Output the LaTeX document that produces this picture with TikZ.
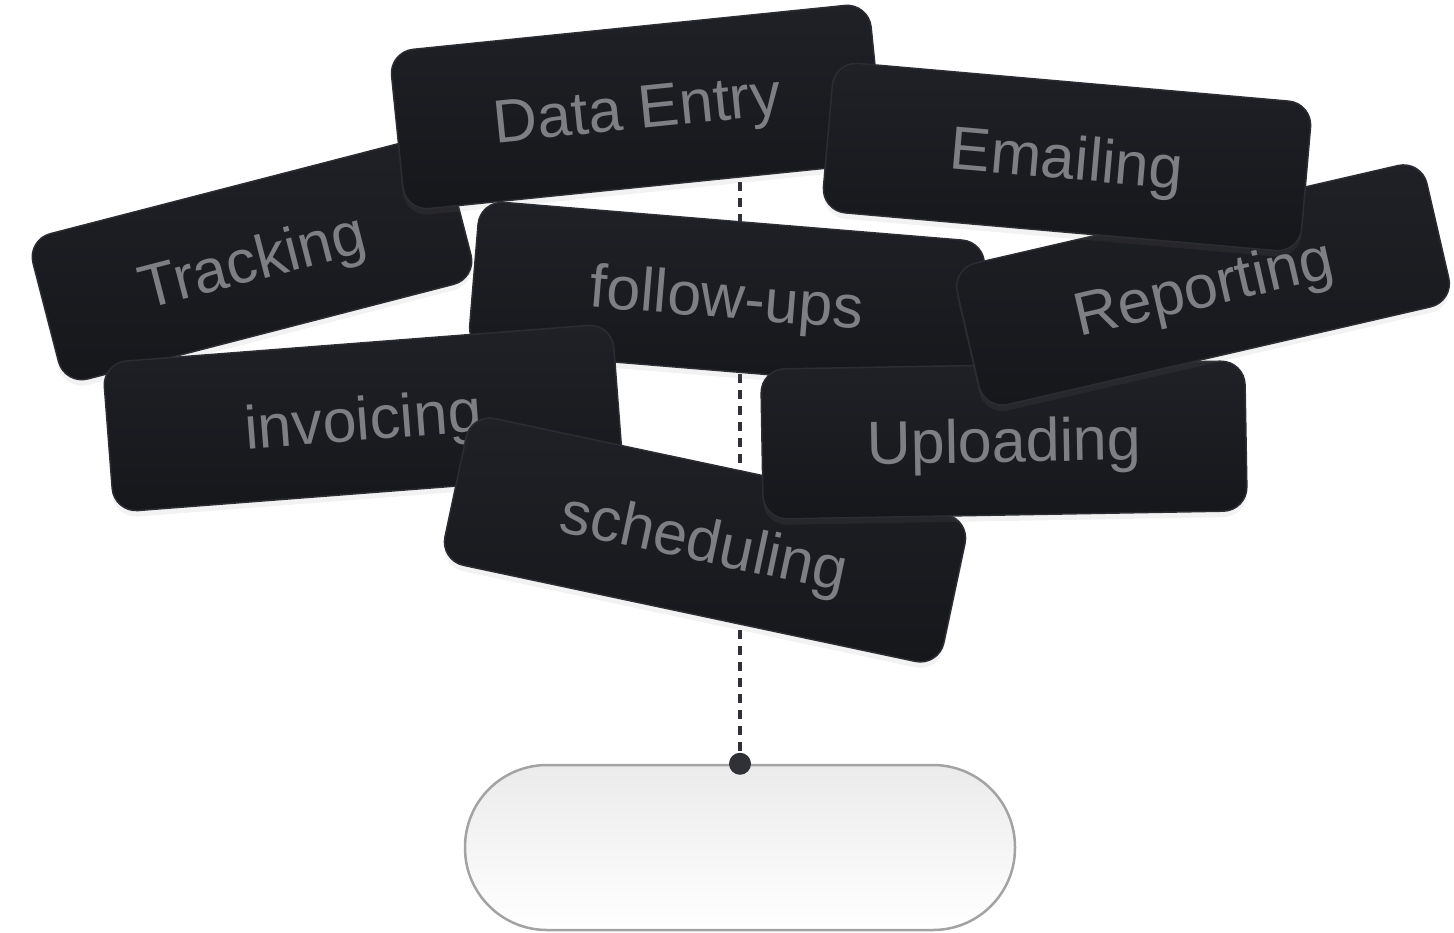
\documentclass[tikz,border=0pt]{standalone}
\usepackage{fontspec}
\usepackage{tikz}
\usetikzlibrary{shadows}
\newfontfamily\cardfont{Liberation Sans}
\definecolor{cardtop}{HTML}{202126}
\definecolor{cardbottom}{HTML}{16171B}
\definecolor{cardline}{HTML}{2C2D32}
\definecolor{cardtext}{HTML}{7E7F85}
\definecolor{dashgray}{HTML}{303136}
\definecolor{pillline}{HTML}{A3A3A3}
\definecolor{pilltop}{HTML}{EBEBEB}
\tikzset{
	card/.style={rectangle, rounded corners=24pt, minimum width=#1, minimum height=150pt,
		inner sep=0pt, draw=cardline, line width=1.5pt, top color=cardtop, bottom color=cardbottom,
		text=cardtext, font=\cardfont\fontsize{61}{68}\selectfont, text height=44pt, text depth=0pt,
		drop shadow={shadow xshift=0pt, shadow yshift=-6pt, opacity=0.10}},
	goal/.style={rectangle, rounded corners=82pt, minimum width=550pt, minimum height=165pt,
		draw=pillline, line width=2.5pt, top color=pilltop, bottom color=white},
	link/.style={draw=dashgray, line width=3.5pt, dash pattern=on 9pt off 7pt},
	dot/.style={circle, fill=dashgray, inner sep=0pt, minimum size=22pt},
}
\begin{document}
\begin{tikzpicture}[x=1pt, y=-1pt]
	\useasboundingbox (0,0) rectangle (1454,932);
	% Target and link:
	\coordinate (top) at (740,150);
	\node[goal] (target) at (740,847.5){};
	\draw[link] (top) -- (target.north);
	% Task cards, back to front:
	\node[card=426pt, rotate=14.5] (tracking) at (252,259){Tracking};
	\node[card=482pt, minimum height=160pt, rotate=5.8] (dataentry) at (637,107){Data Entry};
	\node[card=508pt, rotate=-4.7] (followups) at (727,296){follow-ups};
	\node[card=511pt, rotate=4.4] (invoicing) at (363,418){invoicing};
	\node[card=510pt, rotate=-12] (scheduling) at (705,540){scheduling};
	\node[card=484pt, rotate=1] (uploading) at (1004,440){Uploading};
	\node[card=482pt, minimum height=145pt, rotate=13] (reporting) at (1203,285){Reporting};
	\node[card=480pt, rotate=-5] (emailing) at (1067,157){Emailing};
	\node[dot] (anchor) at (target.north){};
\end{tikzpicture}
\end{document}
